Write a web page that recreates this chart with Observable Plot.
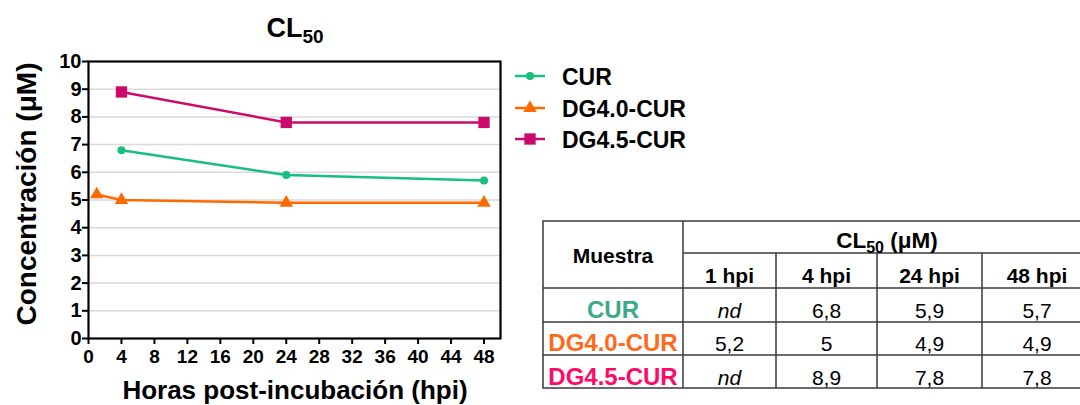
<!DOCTYPE html>
<html>
<head>
<meta charset="utf-8">
<script src="https://cdn.jsdelivr.net/npm/d3@7"></script>
<script src="https://cdn.jsdelivr.net/npm/@observablehq/plot@0.6"></script>
<style>
  html, body { margin: 0; padding: 0; background: #fff; }
  #wrap { position: relative; width: 1080px; height: 405px; overflow: hidden; font-family: "Liberation Sans", Arial, sans-serif; }
  #wrap > svg { position: absolute; left: 0; top: 0; }
</style>
</head>
<body>
<div id="wrap"></div>
<script>
// ---- data ----
const series = ["CUR", "DG4.0-CUR", "DG4.5-CUR"];
const lineColors = ["#19bf7c", "#ff6a00", "#cc0a6e"];
const tableColors = ["#3aaa8a", "#ff6a1a", "#ff0a6a"];
const hours = [1, 4, 24, 48];
const curValues = [null, 6.8, 5.9, 5.7];
const dg40Values = [5.2, 5.0, 4.9, 4.9];
const dg45Values = [null, 8.9, 7.8, 7.8];
const xTicks = [0, 4, 8, 12, 16, 20, 24, 28, 32, 36, 40, 44, 48];
const yTicks = [0, 1, 2, 3, 4, 5, 6, 7, 8, 9, 10];
const tableHeaders = ["1 hpi", "4 hpi", "24 hpi", "48 hpi"];

const valuesBySeries = [curValues, dg40Values, dg45Values];
const rows = [];
series.forEach((s, i) => hours.forEach((h, j) => {
  const v = valuesBySeries[i][j];
  if (v != null) rows.push({series: s, hour: h, value: v});
}));

const font = '"Liberation Sans", Arial, sans-serif';
const wrap = document.getElementById("wrap");

const chart = Plot.plot({
  width: 1080, height: 405,
  marginLeft: 88, marginRight: 580, marginTop: 61, marginBottom: 67,
  x: {domain: [0, 50], label: null},
  y: {domain: [0, 10], label: null},
  color: {domain: series, range: lineColors},
  style: {fontFamily: font, fontWeight: "bold", fontSize: "19px", color: "black", background: "transparent", overflow: "visible"},
  marks: [
    Plot.gridY(yTicks.filter(d => d > 0 && d < 10), {stroke: "#d9d9d9", strokeOpacity: 1, strokeWidth: 1.5}),
    Plot.axisX({ticks: xTicks, tickSize: 6, tickPadding: 5, strokeWidth: 2, label: null, fontSize: 19}),
    Plot.axisY({ticks: yTicks, tickSize: 6, tickPadding: 1, strokeWidth: 2, label: null, fontSize: 20}),
    Plot.frame({stroke: "black", strokeWidth: 2.2}),
    Plot.line(rows, {x: "hour", y: "value", z: "series", stroke: "series", strokeWidth: 2.5}),
    Plot.dot(rows.filter(d => d.series === series[0]), {x: "hour", y: "value", symbol: "circle", r: 4, fill: lineColors[0], stroke: null}),
    Plot.dot(rows.filter(d => d.series === series[1]), {x: "hour", y: "value", symbol: "triangle", r: 5, fill: lineColors[1], stroke: null}),
    Plot.dot(rows.filter(d => d.series === series[2]), {x: "hour", y: "value", symbol: "square", r: 6.4, fill: lineColors[2], stroke: null})
  ]
});
wrap.appendChild(chart);

// ---- overlay: title, axis titles, legend, table ----
const svg = d3.select(wrap).append("svg")
  .attr("width", 1080).attr("height", 405)
  .style("font-family", font)
  .style("pointer-events", "none");

// title
const title = svg.append("text").attr("x", 295).attr("y", 37).attr("text-anchor", "middle")
  .attr("font-weight", "bold").attr("font-size", 27);
title.append("tspan").text("CL");
title.append("tspan").attr("font-size", 19).attr("dy", 6).text("50");

// axis titles
svg.append("text").attr("transform", "translate(36,194) rotate(-90)").attr("text-anchor", "middle")
  .attr("font-weight", "bold").attr("font-size", 28).text("Concentración (μM)");
svg.append("text").attr("x", 295).attr("y", 399).attr("text-anchor", "middle")
  .attr("font-weight", "bold").attr("font-size", 26).text("Horas post-incubación (hpi)");

// legend
const legendY = [76, 108, 139];
const symbols = [d3.symbolCircle, d3.symbolTriangle, d3.symbolSquare];
const symbolR = [4, 5, 6.4];
series.forEach((s, i) => {
  const g = svg.append("g").attr("transform", `translate(0,${legendY[i]})`);
  g.append("line").attr("x1", 515).attr("x2", 545).attr("y1", 0).attr("y2", 0)
    .attr("stroke", lineColors[i]).attr("stroke-width", 2.5);
  g.append("path").attr("transform", "translate(530,0)")
    .attr("d", d3.symbol(symbols[i], Math.PI * symbolR[i] * symbolR[i])())
    .attr("fill", lineColors[i]);
  g.append("text").attr("x", 562).attr("y", 8.5).attr("font-weight", "bold").attr("font-size", 23).text(s);
});

// table
const tb = svg.append("g").attr("stroke", "#3a3a3a").attr("stroke-width", 1.5);
const tL = 543, tR = 1092, tT = 221, tB = 388;
const colX = [543, 683, 776, 877, 982, 1092];
const rowY = [221, 253, 288, 322, 355, 388];
tb.append("rect").attr("x", tL).attr("y", tT).attr("width", tR - tL).attr("height", tB - tT).attr("fill", "none");
tb.append("line").attr("x1", colX[1]).attr("x2", tR).attr("y1", rowY[1]).attr("y2", rowY[1]);
[rowY[2], rowY[3], rowY[4]].forEach(y => tb.append("line").attr("x1", tL).attr("x2", tR).attr("y1", y).attr("y2", y));
tb.append("line").attr("x1", colX[1]).attr("x2", colX[1]).attr("y1", tT).attr("y2", tB);
[colX[2], colX[3], colX[4]].forEach(x => tb.append("line").attr("x1", x).attr("x2", x).attr("y1", rowY[1]).attr("y2", tB));

const cx = i => (colX[i] + colX[i + 1]) / 2;
svg.append("text").attr("x", cx(0)).attr("y", 262.5).attr("text-anchor", "middle")
  .attr("font-weight", "bold").attr("font-size", 21).text("Muestra");
const clh = svg.append("text").attr("x", 887).attr("y", 248).attr("text-anchor", "middle")
  .attr("font-weight", "bold").attr("font-size", 22.5);
clh.append("tspan").text("CL");
clh.append("tspan").attr("font-size", 16).attr("dy", 5).text("50");
clh.append("tspan").attr("dy", -5).text(" (μM)");
tableHeaders.forEach((h, j) => {
  svg.append("text").attr("x", cx(j + 1)).attr("y", 283).attr("text-anchor", "middle")
    .attr("font-weight", "bold").attr("font-size", 21).text(h);
});
const rowBase = [318, 351, 385];
const fmt = v => String(v).replace(".", ",");
series.forEach((s, i) => {
  svg.append("text").attr("x", cx(0)).attr("y", rowBase[i]).attr("text-anchor", "middle")
    .attr("font-weight", "bold").attr("font-size", 24).attr("fill", tableColors[i]).text(s);
  valuesBySeries[i].forEach((v, j) => {
    svg.append("text").attr("x", cx(j + 1)).attr("y", rowBase[i]).attr("text-anchor", "middle")
      .attr("font-size", 21).attr("font-style", v == null ? "italic" : "normal")
      .text(v == null ? "nd" : fmt(v));
  });
});
</script>
</body>
</html>
